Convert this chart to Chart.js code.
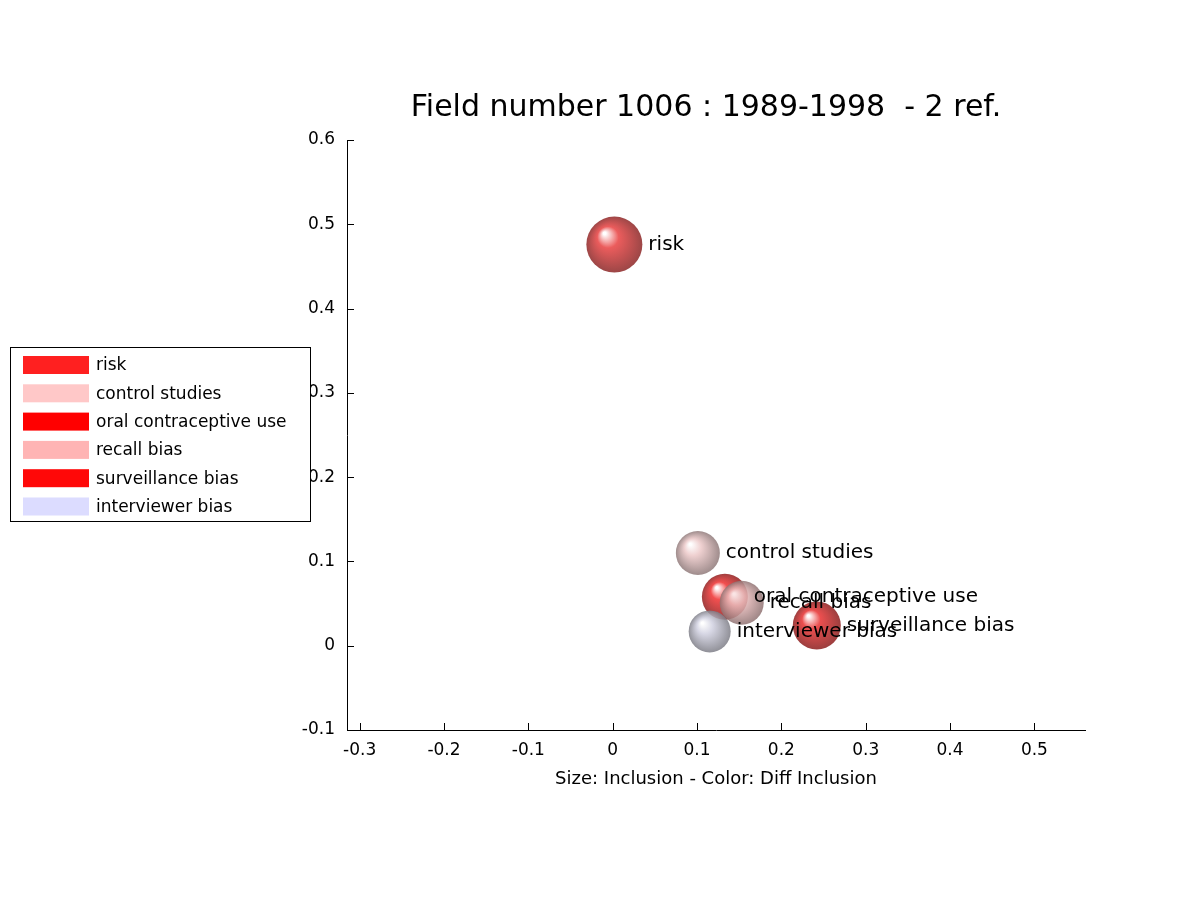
<!DOCTYPE html>
<html>
<head>
<script src="https://cdn.jsdelivr.net/npm/chart.js@4"></script>
<style>body{margin:0;background:#fff}</style>
</head>
<body>
<canvas id="c" width="1200" height="900"></canvas>
<script>
const labels = ['risk', 'control studies', 'oral contraceptive use', 'recall bias', 'surveillance bias', 'interviewer bias'];
const xValues = [0.002, 0.101, 0.133, 0.153, 0.242, 0.115];
const yValues = [0.476, 0.110, 0.058, 0.051, 0.024, 0.017];
const sizes = [28, 22, 23, 22, 24, 21];
const colors = ['#ff2020', '#ffc8c8', '#ff0000', '#ffb4b4', '#ff0808', '#dcdcff'];
const sphere = ['#e84040', '#ecc8c8', '#f03030', '#ecbcbc', '#e83030', '#d0d0e0'];
const xTicks = [-0.3, -0.2, -0.1, 0, 0.1, 0.2, 0.3, 0.4, 0.5];
const yTicks = [-0.1, 0, 0.1, 0.2, 0.3, 0.4, 0.5, 0.6];

const fam = '"DejaVu Sans", sans-serif';

const spheres = {
  id: 'spheres',
  afterDatasetsDraw(chart) {
    const ctx = chart.ctx;
    const meta = chart.getDatasetMeta(0);
    meta.data.forEach((pt, i) => {
      const r = sizes[i];
      const g = ctx.createRadialGradient(pt.x - r * 0.35, pt.y - r * 0.4, r * 0.05, pt.x, pt.y, r);
      g.addColorStop(0, '#ffffff');
      g.addColorStop(0.35, sphere[i]);
      g.addColorStop(1, shade(sphere[i]));
      ctx.save();
      ctx.globalAlpha = 0.85;
      ctx.beginPath();
      ctx.arc(pt.x, pt.y, r, 0, Math.PI * 2);
      ctx.fillStyle = g;
      ctx.fill();
      ctx.restore();
    });
    ctx.save();
    ctx.font = '20px ' + fam;
    ctx.fillStyle = '#000';
    ctx.textBaseline = 'middle';
    meta.data.forEach((pt, i) => {
      ctx.fillText(labels[i], pt.x + sizes[i] + 6, pt.y);
    });
    // inward tick marks
    const xs = chart.scales.x, ys = chart.scales.y;
    ctx.strokeStyle = '#000';
    ctx.lineWidth = 1;
    ctx.beginPath();
    xTicks.forEach(v => { const px = Math.round(xs.getPixelForValue(v)) + 0.5; ctx.moveTo(px, ys.bottom); ctx.lineTo(px, ys.bottom - 7); });
    yTicks.forEach(v => { const py = Math.round(ys.getPixelForValue(v)) + 0.5; ctx.moveTo(xs.left, py); ctx.lineTo(xs.left + 7, py); });
    ctx.stroke();
    // title
    ctx.font = '30px ' + fam;
    ctx.textAlign = 'center';
    ctx.fillText('Field number 1006 : 1989-1998  - 2 ref.', 706, 108);
    // legend
    ctx.textAlign = 'left';
    ctx.font = '17px ' + fam;
    ctx.fillStyle = '#fff';
    ctx.fillRect(10, 347, 301, 175);
    ctx.strokeRect(10.5, 347.5, 300, 174);
    labels.forEach((l, i) => {
      const y = 365 + i * 28.3;
      ctx.fillStyle = colors[i];
      ctx.fillRect(23, y - 9, 66, 18);
      ctx.fillStyle = '#000';
      ctx.fillText(l, 96, y + 1);
    });
    ctx.restore();
  }
};

function shade(hex) {
  const n = parseInt(hex.slice(1), 16);
  const f = v => Math.round(v * 0.6);
  return `rgb(${f(n >> 16)},${f((n >> 8) & 255)},${f(n & 255)})`;
}

new Chart(document.getElementById('c'), {
  type: 'bubble',
  data: {
    datasets: [{
      data: xValues.map((x, i) => ({ x: x, y: yValues[i], r: sizes[i] })),
      backgroundColor: 'rgba(0,0,0,0)',
      borderColor: 'rgba(0,0,0,0)'
    }]
  },
  options: {
    responsive: false,
    animation: false,
    layout: { padding: { left: 300, right: 115, top: 140, bottom: 110 } },
    plugins: { legend: { display: false }, tooltip: { enabled: false } },
    scales: {
      x: {
        min: -0.315, max: 0.56,
        afterFit: s => { s.height = 60; },
        afterBuildTicks: s => { s.ticks = xTicks.map(v => ({ value: v })); },
        grid: { display: false },
        border: { color: '#000' },
        ticks: { color: '#000', font: { size: 17, family: fam }, padding: 2, callback: v => String(Math.round(v * 10) / 10) },
        title: { display: true, text: 'Size: Inclusion - Color: Diff Inclusion', color: '#000', font: { size: 18, family: fam }, padding: 0 }
      },
      y: {
        min: -0.1, max: 0.6,
        afterFit: s => { s.width = 47; },
        afterBuildTicks: s => { s.ticks = yTicks.map(v => ({ value: v })); },
        grid: { display: false },
        border: { color: '#000' },
        ticks: { color: '#000', font: { size: 17, family: fam }, padding: 4, callback: v => String(Math.round(v * 10) / 10) }
      }
    }
  },
  plugins: [spheres]
});
</script>
</body>
</html>
